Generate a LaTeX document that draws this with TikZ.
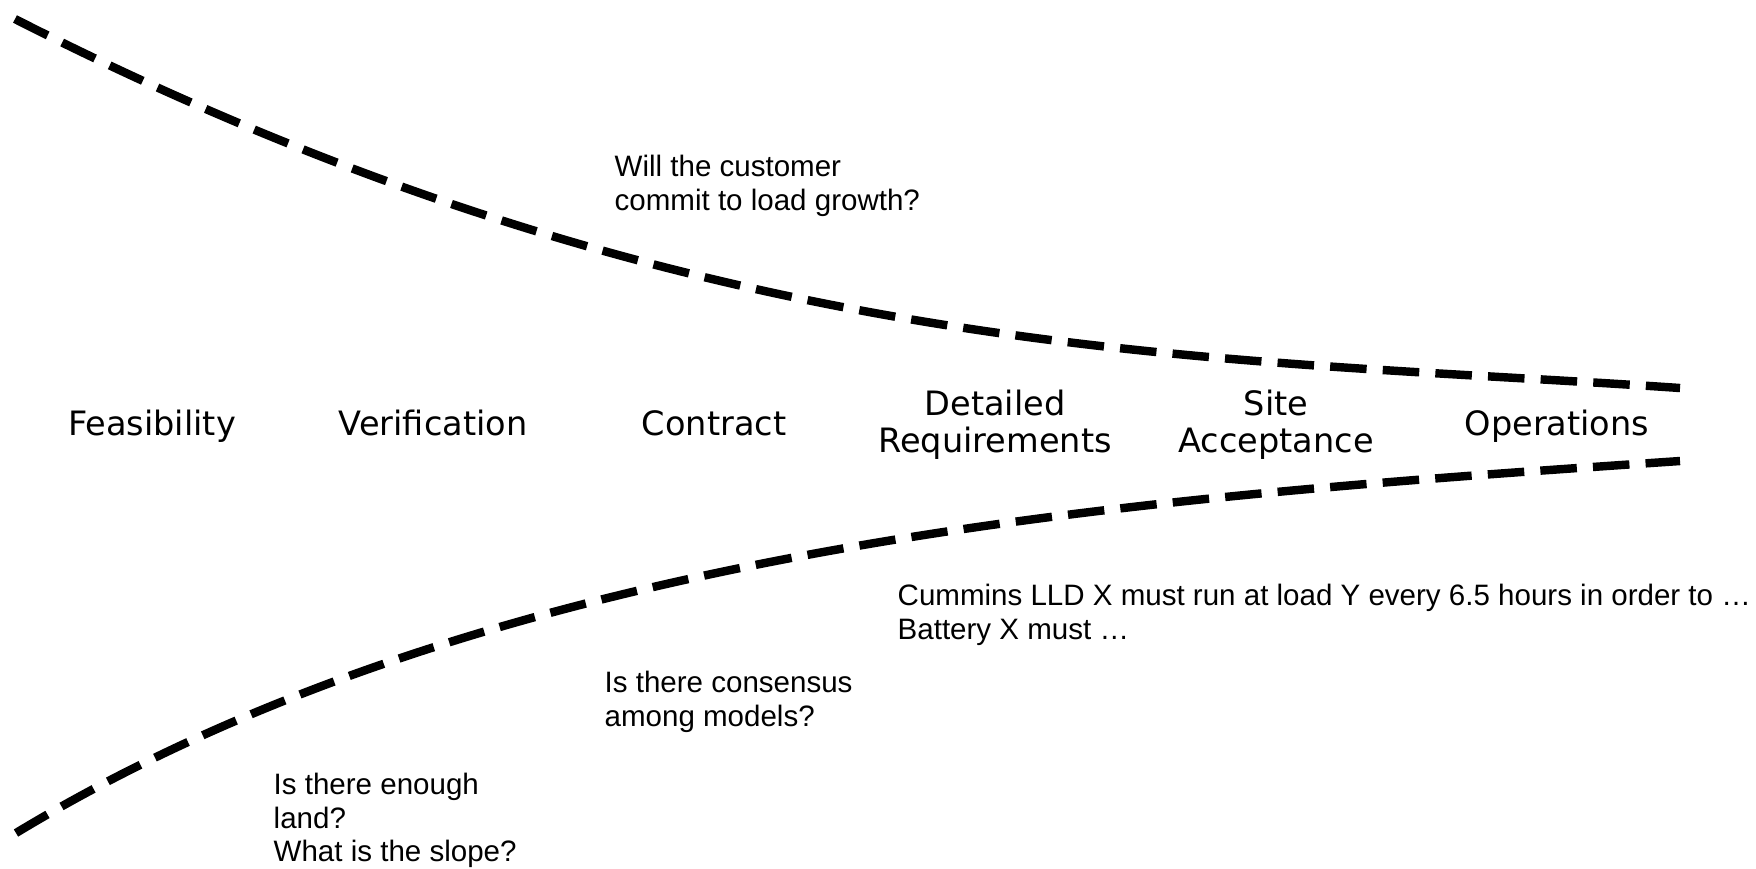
\documentclass[tikz,border=0pt]{standalone}
\usepackage{fontspec}
\newfontfamily\stagefont{DejaVu Sans}
\newfontfamily\notefont{Liberation Sans}
\usetikzlibrary{positioning}

\begin{document}
\begin{tikzpicture}[
  stage/.style={font=\stagefont\fontsize{9.55}{10.5}\selectfont,align=center,inner sep=0pt},
  note/.style={font=\notefont\fontsize{8.4}{9.65}\selectfont,align=left,anchor=north west,inner sep=0pt},
  funnel/.style={line width=2.4pt,dash pattern=on 10.4pt off 4.6pt}]
\useasboundingbox (0,0) rectangle (17.56,-8.68);
% project stages
\node[stage,anchor=base] (feas) at (1.52,-4.35) {Feasibility};
\node[stage] (verif) [right=2.81cm of feas.base,anchor=base] {Verification};
\node[stage] (contract) [right=2.81cm of verif.base,anchor=base] {Contract};
\node[stage] (detreq) [right=2.81cm of contract.base,anchor=base,yshift=-1.7mm] {Detailed\\Requirements};
\node[stage] (siteacc) [right=2.81cm of detreq.base,anchor=base] {Site\\Acceptance};
\node[stage] (ops) [right=2.81cm of siteacc.base,anchor=base,yshift=1.7mm] {Operations};
% cone of uncertainty
\coordinate (topL) at (0.15,-0.19);
\coordinate (topR) at (16.80,-3.88);
\coordinate (botL) at (0.16,-8.33);
\coordinate (botR) at (16.80,-4.61);
\draw[funnel] (topL) .. controls (7.00,-3.67) and (12.00,-3.55) .. (topR);
\draw[funnel] (botL) .. controls (5.00,-5.40) and (11.50,-4.97) .. (botR);
% questions
\node[note] (qload) at (6.14,-1.54) {Will the customer\\commit to load growth?};
\node[note] (qmodel) at (6.04,-6.70) {Is there consensus\\among models?};
\node[note] (qland) at (2.73,-7.72) {Is there enough\\land?\\What is the slope?};
\node[note] (qreq) at (8.97,-5.83) {Cummins LLD X must run at load Y every 6.5 hours in order to …\\Battery X must …};
\end{tikzpicture}
\end{document}
